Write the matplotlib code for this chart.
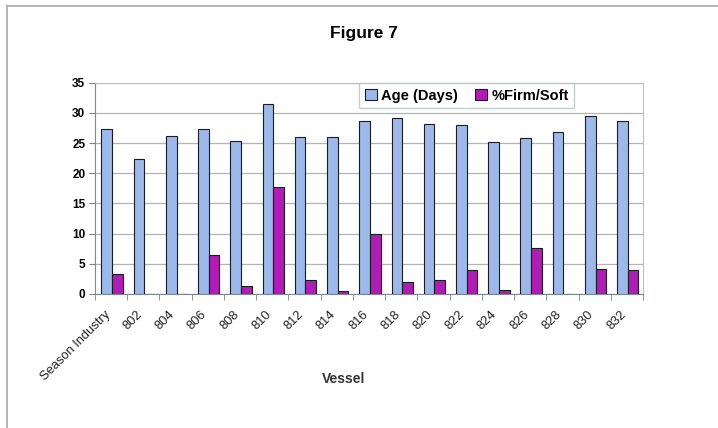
import numpy as np
import matplotlib.pyplot as plt
import matplotlib.transforms as mtransforms
from matplotlib.lines import Line2D

plt.rcParams['font.family'] = ['Liberation Sans', 'DejaVu Sans']

vessels = ['Season Industry', '802', '804', '806', '808', '810', '812', '814', '816',
           '818', '820', '822', '824', '826', '828', '830', '832']
age_days = [27.4, 22.4, 26.2, 27.4, 25.3, 31.4, 26.0, 26.0, 28.7,
            29.1, 28.2, 28.0, 25.1, 25.8, 26.8, 29.5, 28.7]
firm_soft = [3.3, 0, 0, 6.4, 1.4, 17.7, 2.4, 0.5, 10.0,
             2.0, 2.4, 4.0, 0.7, 7.7, 0, 4.1, 4.0]

fig = plt.figure(figsize=(7.18, 4.28), dpi=100)
ax = fig.add_axes([0.1323, 0.3131, 0.7632, 0.4937])

x = np.arange(len(vessels))
w = 0.33
ax.bar(x - w / 2 + 0.03, age_days, w, color='#9DB9EA', edgecolor='#1a1a2a',
       linewidth=0.8, label='Age (Days)', zorder=3)
ax.bar(x + w / 2 + 0.03, firm_soft, w, color='#B01DB3', edgecolor='#1a1a2a',
       linewidth=0.8, label='%Firm/Soft', zorder=3)

ax.set_xlim(-0.5, len(vessels) - 0.5)
ax.set_ylim(0, 35)
ax.set_yticks(range(0, 36, 5))
ax.yaxis.grid(True, color='#b4b4b4', linewidth=0.9, zorder=0)

# labels on the categories, tick marks on the boundaries
ax.set_xticks(x)
ax.set_xticklabels(vessels, rotation=45, ha='right', rotation_mode='anchor',
                   fontsize=9.3, color='#222222')
ax.set_xticks(np.arange(-0.5, len(vessels), 1), minor=True)
ax.tick_params(axis='x', which='major', length=0, pad=9)
ax.tick_params(axis='x', which='minor', length=4, color='#808080', direction='out')
ax.tick_params(axis='y', length=4, color='#808080', labelsize=8.5, pad=3)
for lab in ax.get_yticklabels():
    lab.set_fontweight('bold')

# nudge the slanted labels a little to the left
shift = mtransforms.ScaledTranslation(-0.07, -0.02, fig.dpi_scale_trans)
for lab in ax.get_xticklabels():
    lab.set_transform(lab.get_transform() + shift)

for side in ['top', 'right']:
    ax.spines[side].set_color('#b4c4c4')
for side in ['left', 'bottom']:
    ax.spines[side].set_color('#7a8a8a')

ax.set_xlabel('Vessel', fontsize=10, fontweight='bold', color='#333333')
ax.xaxis.set_label_coords(0.453, -0.37)
fig.suptitle('Figure 7', x=0.507, y=0.94, fontsize=12.5, fontweight='bold')

leg = ax.legend(loc='upper left', bbox_to_anchor=(0.482, 1.0), ncol=2,
                fontsize=10.5, frameon=True, fancybox=False, borderaxespad=0,
                handlelength=0.8, handleheight=0.8, handletextpad=0.3,
                columnspacing=1.2, borderpad=0.4)
leg.get_frame().set_edgecolor('#b4c4c4')
leg.get_frame().set_linewidth(1.0)
for t in leg.get_texts():
    t.set_fontweight('bold')

# outer frame of the figure
fig.add_artist(Line2D([0.0097, 0.0097], [0, 0.986], color='#a8a8a8', linewidth=1.2))
fig.add_artist(Line2D([0.0097, 1.0], [0.986, 0.986], color='#a8a8a8', linewidth=1.2))

fig.savefig('out.png', dpi=100)
